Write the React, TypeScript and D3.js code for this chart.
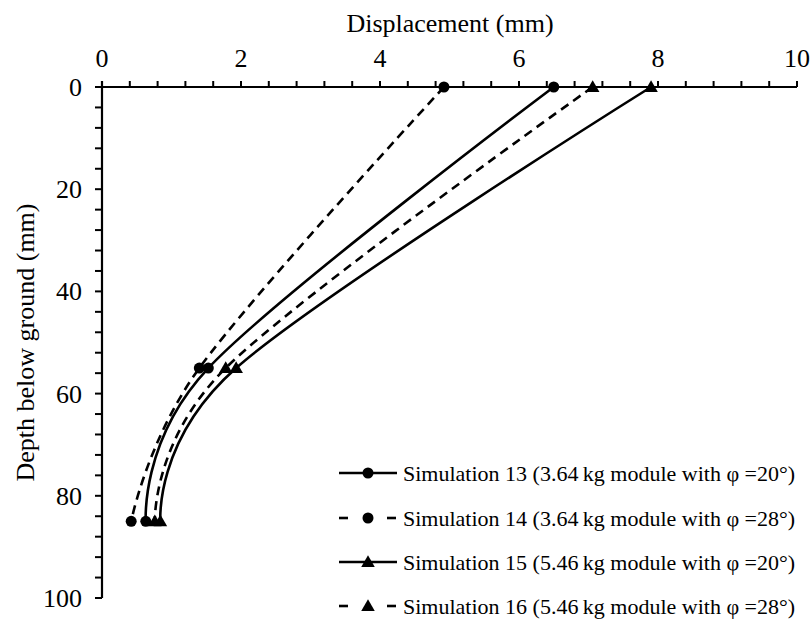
import React, { useEffect, useRef } from 'react';
import * as d3 from 'd3';

// depth below ground (mm) at which displacement was recorded
const depths = [0, 55, 85];

// displacement (mm) per simulation
const sim13 = [6.5, 1.53, 0.63];
const sim14 = [4.92, 1.4, 0.42];
const sim15 = [7.9, 1.93, 0.84];
const sim16 = [7.06, 1.78, 0.76];

const seriesNames = [
  'Simulation 13 (3.64\u2009kg module with \u03c6 =20°)',
  'Simulation 14 (3.64\u2009kg module with \u03c6 =28°)',
  'Simulation 15 (5.46\u2009kg module with \u03c6 =20°)',
  'Simulation 16 (5.46\u2009kg module with \u03c6 =28°)',
];

const xTicks = [0, 2, 4, 6, 8, 10];
const yTicks = [0, 20, 40, 60, 80, 100];

const App = () => {
  const svgRef = useRef<SVGSVGElement>(null);

  useEffect(() => {
    const width = 810, height = 621;
    const margin = { top: 87, right: 13, bottom: 23, left: 102 };
    const font = '"Liberation Serif", "Times New Roman", serif';

    const svg = d3.select(svgRef.current)
      .attr('width', width)
      .attr('height', height);
    svg.selectAll('*').remove();

    const x = d3.scaleLinear().domain([0, 10]).range([margin.left, width - margin.right]);
    const y = d3.scaleLinear().domain([0, 100]).range([margin.top, height - margin.bottom]);

    const series = [
      { values: sim13, dashed: false, marker: 'circle' },
      { values: sim14, dashed: true, marker: 'circle' },
      { values: sim15, dashed: false, marker: 'triangle' },
      { values: sim16, dashed: true, marker: 'triangle' },
    ];

    // minor ticks on x (top) axis
    const xMinor = d3.range(0, 10.001, 0.4);
    svg.append('g').selectAll('line').data(xMinor).enter().append('line')
      .attr('x1', d => x(d)).attr('x2', d => x(d))
      .attr('y1', y(0) - 6).attr('y2', y(0))
      .attr('stroke', '#000').attr('stroke-width', 2);

    const yMinor = d3.range(0, 100.001, 4);
    svg.append('g').selectAll('line').data(yMinor).enter().append('line')
      .attr('x1', x(0) - 7).attr('x2', x(0))
      .attr('y1', d => y(d)).attr('y2', d => y(d))
      .attr('stroke', '#000').attr('stroke-width', 2);

    // axis lines
    svg.append('line')
      .attr('x1', x(0)).attr('x2', x(10)).attr('y1', y(0)).attr('y2', y(0))
      .attr('stroke', '#000').attr('stroke-width', 2.2);
    svg.append('line')
      .attr('x1', x(0)).attr('x2', x(0)).attr('y1', y(0) - 6).attr('y2', y(100))
      .attr('stroke', '#000').attr('stroke-width', 2.2);

    // tick labels
    svg.append('g').selectAll('text').data(xTicks).enter().append('text')
      .attr('x', d => x(d)).attr('y', 67)
      .attr('text-anchor', 'middle')
      .style('font-family', font).style('font-size', '26px')
      .text(d => d);

    svg.append('g').selectAll('text').data(yTicks).enter().append('text')
      .attr('x', 82).attr('y', d => y(d) + 9)
      .attr('text-anchor', 'end')
      .style('font-family', font).style('font-size', '26px')
      .text(d => d);

    // axis titles
    svg.append('text')
      .attr('x', 450).attr('y', 32)
      .attr('text-anchor', 'middle')
      .style('font-family', font).style('font-size', '26px')
      .text('Displacement (mm)');

    svg.append('text')
      .attr('transform', `translate(34,${(y(0) + y(100)) / 2}) rotate(-90)`)
      .attr('text-anchor', 'middle')
      .style('font-family', font).style('font-size', '26px')
      .text('Depth below ground (mm)');

    const line = d3.line<number>()
      .x(d => x(d))
      .y((d, i) => y(depths[i]))
      .curve(d3.curveCatmullRom.alpha(0));

    const tri = d3.symbol().type(d3.symbolTriangle).size(80);

    const drawMarker = (g, marker, cx, cy) => {
      if (marker === 'circle') {
        g.append('circle').attr('cx', cx).attr('cy', cy).attr('r', 5.5).attr('fill', '#000');
      } else {
        g.append('path').attr('d', tri()).attr('transform', `translate(${cx},${cy + 1})`).attr('fill', '#000');
      }
    };

    series.forEach(s => {
      svg.append('path')
        .datum(s.values)
        .attr('d', line)
        .attr('fill', 'none')
        .attr('stroke', '#000')
        .attr('stroke-width', 2.6)
        .attr('stroke-dasharray', s.dashed ? '9,6' : null);
      const g = svg.append('g');
      s.values.forEach((v, i) => drawMarker(g, s.marker, x(v), y(depths[i])));
    });

    // legend
    const legendY = [473, 518, 562, 606];
    series.forEach((s, i) => {
      const g = svg.append('g');
      const ly = legendY[i];
      if (s.dashed) {
        g.append('line').attr('x1', 339).attr('x2', 348).attr('y1', ly).attr('y2', ly)
          .attr('stroke', '#000').attr('stroke-width', 2.6);
        g.append('line').attr('x1', 387).attr('x2', 396).attr('y1', ly).attr('y2', ly)
          .attr('stroke', '#000').attr('stroke-width', 2.6);
      } else {
        g.append('line').attr('x1', 339).attr('x2', 397).attr('y1', ly).attr('y2', ly)
          .attr('stroke', '#000').attr('stroke-width', 2.6);
      }
      drawMarker(g, s.marker, 368, ly);
      g.append('text')
        .attr('x', 403).attr('y', ly + 8)
        .style('font-family', font).style('font-size', '22px')
        .text(seriesNames[i]);
    });
  }, []);

  return (
    <svg ref={svgRef} style={{ position: 'absolute', left: 0, top: 0, background: '#fff' }}></svg>
  );
};

export default App;
